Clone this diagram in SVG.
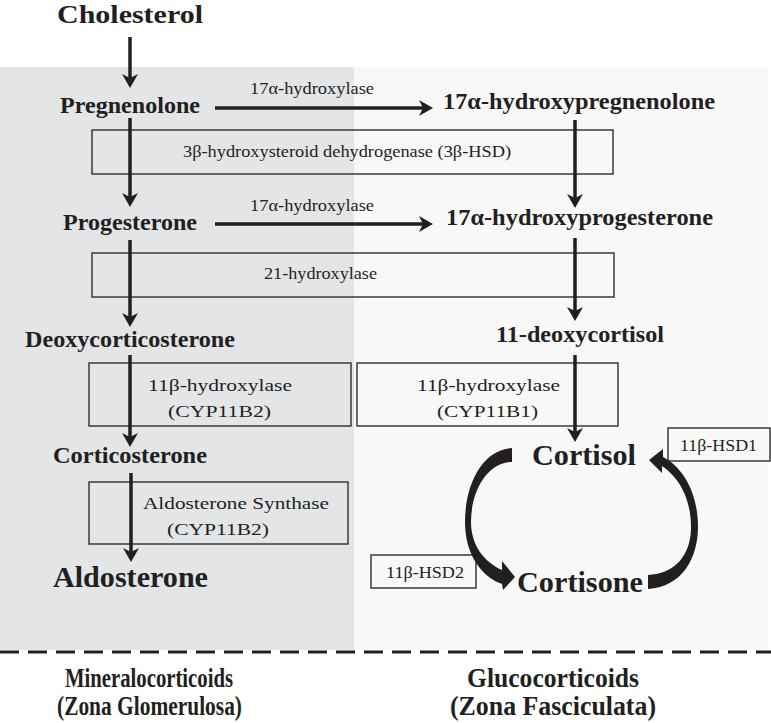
<svg xmlns="http://www.w3.org/2000/svg" width="771" height="723" viewBox="0 0 771 723">
<style>
text{font-family:"Liberation Serif","Times New Roman",serif;fill:#231f20}
.n{font-weight:bold;font-size:23px}
.b{font-weight:bold;font-size:30px}
.e{font-size:16px}
.z{font-weight:bold;font-size:28px}
.box{fill:none;stroke:#3a3a3a;stroke-width:1.5}
.ar{stroke:#231f20;stroke-width:3.5;fill:none;marker-end:url(#ah)}
.cv{fill:#231f20}
</style>
<defs>
<marker id="ah" markerUnits="userSpaceOnUse" markerWidth="16" markerHeight="18" refX="4" refY="8" orient="auto" viewBox="0 0 16 16" overflow="visible">
<path d="M0,0 L14,8 L0,16 L4,8 Z" fill="#231f20"/>
</marker>
</defs>
<rect x="0" y="67" width="354" height="583" fill="#e4e5e7"/>
<rect x="354" y="67" width="414" height="583" fill="#f8f8f8"/>
<line x1="0" y1="652" x2="771" y2="652" stroke="#231f20" stroke-width="3" stroke-dasharray="19 9"/>

<g id="enzymes">
<g id="e-17a-1"><text class="e" x="250" y="94" textLength="124" lengthAdjust="spacingAndGlyphs">17α-hydroxylase</text></g>
<g id="e-17a-2"><text class="e" x="250" y="211" textLength="124" lengthAdjust="spacingAndGlyphs">17α-hydroxylase</text></g>
<g id="e-3bhsd"><rect class="box" x="92" y="130" width="521" height="44"/><text class="e" x="183" y="157" textLength="328" lengthAdjust="spacingAndGlyphs">3β-hydroxysteroid dehydrogenase (3β-HSD)</text></g>
<g id="e-21"><rect class="box" x="92" y="253" width="522" height="44"/><text class="e" x="264" y="279" textLength="113" lengthAdjust="spacingAndGlyphs">21-hydroxylase</text></g>
<g id="e-11b2"><rect class="box" x="89" y="363" width="262" height="63"/><text class="e" x="148" y="391" textLength="144" lengthAdjust="spacingAndGlyphs">11β-hydroxylase</text><text class="e" x="168" y="417" textLength="103" lengthAdjust="spacingAndGlyphs">(CYP11B2)</text></g>
<g id="e-11b1"><rect class="box" x="357" y="363" width="261" height="63"/><text class="e" x="417" y="391" textLength="143" lengthAdjust="spacingAndGlyphs">11β-hydroxylase</text><text class="e" x="437" y="417" textLength="101" lengthAdjust="spacingAndGlyphs">(CYP11B1)</text></g>
<g id="e-aldos"><rect class="box" x="89" y="482" width="259" height="62"/><text class="e" x="143" y="509" textLength="186" lengthAdjust="spacingAndGlyphs">Aldosterone Synthase</text><text class="e" x="167" y="535" textLength="102" lengthAdjust="spacingAndGlyphs">(CYP11B2)</text></g>
<g id="e-hsd1"><rect class="box" x="668" y="428" width="102" height="33"/><text class="e" x="680" y="451" textLength="77" lengthAdjust="spacingAndGlyphs">11β-HSD1</text></g>
<g id="e-hsd2"><rect class="box" x="371" y="555" width="105" height="33"/><text class="e" x="386" y="578" textLength="78" lengthAdjust="spacingAndGlyphs">11β-HSD2</text></g>
</g>

<g id="connectors">
<path class="ar" d="M130,37 V78"/>
<path class="ar" d="M130,118 V197"/>
<path class="ar" d="M130,240 V317"/>
<path class="ar" d="M130,355 V437"/>
<path class="ar" d="M131,473 V552"/>
<path class="ar" d="M215,108 H423"/>
<path class="ar" d="M215,224 H423"/>
<path class="ar" d="M575,120 V198"/>
<path class="ar" d="M575,238 V311"/>
<path class="ar" d="M575,355 V432"/>
<path class="cv" d="M512,448 C484,449 465,482 465,522 C465,555 482,577 502,584 L503,590 L515,577 L502,561 L502,570 C484,562 471,545 471,522 C471,490 488,462 512,462 Z"/>
<path class="cv" d="M648,589 C682,587 698,558 698,527 C698,494 684,468 663,457 L663,449 L649,460 L662,473 L662,466 C680,478 691,500 691,527 C691,555 675,574 648,575 Z"/>
</g>

<g id="cholesterol"><text class="b" style="font-size:25px" x="57" y="23" textLength="146" lengthAdjust="spacingAndGlyphs">Cholesterol</text></g>
<g id="pregnenolone"><text class="n" x="60" y="113" textLength="140" lengthAdjust="spacingAndGlyphs">Pregnenolone</text></g>
<g id="oh-pregnenolone"><text class="n" x="443" y="109" textLength="272" lengthAdjust="spacingAndGlyphs">17α-hydroxypregnenolone</text></g>
<g id="progesterone"><text class="n" x="63" y="230" textLength="134" lengthAdjust="spacingAndGlyphs">Progesterone</text></g>
<g id="oh-progesterone"><text class="n" x="446" y="225" textLength="267" lengthAdjust="spacingAndGlyphs">17α-hydroxyprogesterone</text></g>
<g id="deoxycorticosterone"><text class="n" x="25" y="347" textLength="210" lengthAdjust="spacingAndGlyphs">Deoxycorticosterone</text></g>
<g id="deoxycortisol"><text class="n" x="496" y="342" textLength="168" lengthAdjust="spacingAndGlyphs">11-deoxycortisol</text></g>
<g id="corticosterone"><text class="n" x="53" y="463" textLength="154" lengthAdjust="spacingAndGlyphs">Corticosterone</text></g>
<g id="aldosterone"><text class="b" x="53" y="587" textLength="155" lengthAdjust="spacingAndGlyphs">Aldosterone</text></g>
<g id="cortisol"><text class="b" x="532" y="465" textLength="104" lengthAdjust="spacingAndGlyphs">Cortisol</text></g>
<g id="cortisone"><text class="b" x="517" y="592" textLength="126" lengthAdjust="spacingAndGlyphs">Cortisone</text></g>

<g id="labels">
<text class="z" x="65" y="687" textLength="168" lengthAdjust="spacingAndGlyphs">Mineralocorticoids</text>
<text class="z" x="57" y="715" textLength="185" lengthAdjust="spacingAndGlyphs">(Zona Glomerulosa)</text>
<text class="z" x="467" y="687" textLength="172" lengthAdjust="spacingAndGlyphs">Glucocorticoids</text>
<text class="z" x="450" y="715" textLength="206" lengthAdjust="spacingAndGlyphs">(Zona Fasciculata)</text>
</g>
</svg>
